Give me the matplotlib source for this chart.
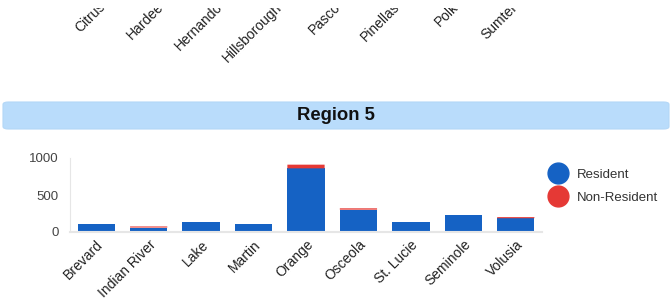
import matplotlib
matplotlib.use('Agg')
import matplotlib.pyplot as plt
from matplotlib.patches import FancyBboxPatch, Rectangle
from matplotlib.lines import Line2D
from matplotlib.transforms import blended_transform_factory

plt.rcParams['font.family'] = ['Liberation Sans', 'DejaVu Sans']

# region 4 (chart above, only its cut-off labels show)
prev_counties = ['Citrus', 'Hardee', 'Hernando', 'Hillsborough', 'Pasco', 'Pinellas', 'Polk', 'Sumter']

# region 5
counties = ['Brevard', 'Indian River', 'Lake', 'Martin', 'Orange', 'Osceola', 'St. Lucie', 'Seminole', 'Volusia']
resident = [112, 60, 140, 112, 860, 302, 140, 234, 186]
non_resident = [0, 15, 0, 0, 50, 18, 0, 0, 15]
series = ['Resident', 'Non-Resident']
colors = ['#1562c4', '#e53935']
yticks = [0, 500, 1000]

W, H = 672, 303
fig = plt.figure(figsize=(W / 100, H / 100), dpi=100)

def fx(px):
    return px / W

def fy(py):
    return 1 - py / H

# strip holding the bottom of the previous chart; its labels are cut at the top
ax0 = fig.add_axes([fx(70), fy(90), fx(542) - fx(70), fy(0) - fy(90)])
ax0.set_xlim(-0.5, len(prev_counties) - 0.5)
ax0.set_ylim(0, 1)
ax0.axis('off')
tr = blended_transform_factory(ax0.transData, fig.transFigure)
for i, name in enumerate(prev_counties):
    ax0.text(i - 0.03, fy(0), name, transform=tr, rotation=45, ha='right', va='top',
             rotation_mode='anchor', fontsize=10, color='#222222', clip_on=False)
cover = Rectangle((0, fy(8)), 1, fy(0) - fy(8), transform=fig.transFigure,
                  facecolor='white', edgecolor='none', zorder=5)
fig.patches.append(cover)

# title banner
banner = FancyBboxPatch((fx(3), fy(129)), fx(669) - fx(3), fy(102) - fy(129),
                        boxstyle='round,pad=0,rounding_size=0.008', transform=fig.transFigure,
                        facecolor='#b9dcfb', edgecolor='#b3d7f7', linewidth=0.8)
fig.patches.append(banner)
fig.text(0.5, (fy(102) + fy(129)) / 2, 'Region 5', ha='center', va='center',
         fontsize=13.3, fontweight='bold', color='#111111')

# bar chart
ax = fig.add_axes([fx(70), fy(232), fx(542) - fx(70), fy(158) - fy(232)])
x = range(len(counties))
ax.bar(x, resident, width=0.71, color=colors[0])
ax.bar(x, non_resident, width=0.71, bottom=resident, color=colors[1], snap=False)
ax.set_xlim(-0.5, len(counties) - 0.5)
ax.set_ylim(0, 1000)
ax.set_yticks(yticks)
ax.set_yticklabels([str(v) for v in yticks], fontsize=9.5, color='#444444')
ax.set_xticks(list(x))
ax.set_xticklabels(counties, rotation=45, ha='right', va='top', rotation_mode='anchor',
                   fontsize=10, color='#222222')
ax.tick_params(axis='both', length=0)
ax.tick_params(axis='y', pad=8)
ax.tick_params(axis='x', pad=4)
for s in ['top', 'right']:
    ax.spines[s].set_visible(False)
ax.spines['left'].set_color('#e6e6e6')
ax.spines['bottom'].set_color('#e6e6e6')
ax.spines['bottom'].set_linewidth(1.5)

handles = [Line2D([], [], marker='o', linestyle='', markersize=15, color=c) for c in colors]
fig.legend(handles, series, loc='upper left', bbox_to_anchor=(fx(543), fy(163)),
           frameon=False, fontsize=9.5, handletextpad=0.75, labelspacing=0.85,
           borderaxespad=0, handlelength=1.4, labelcolor='#333333')

fig.savefig('out.png', dpi=100)
